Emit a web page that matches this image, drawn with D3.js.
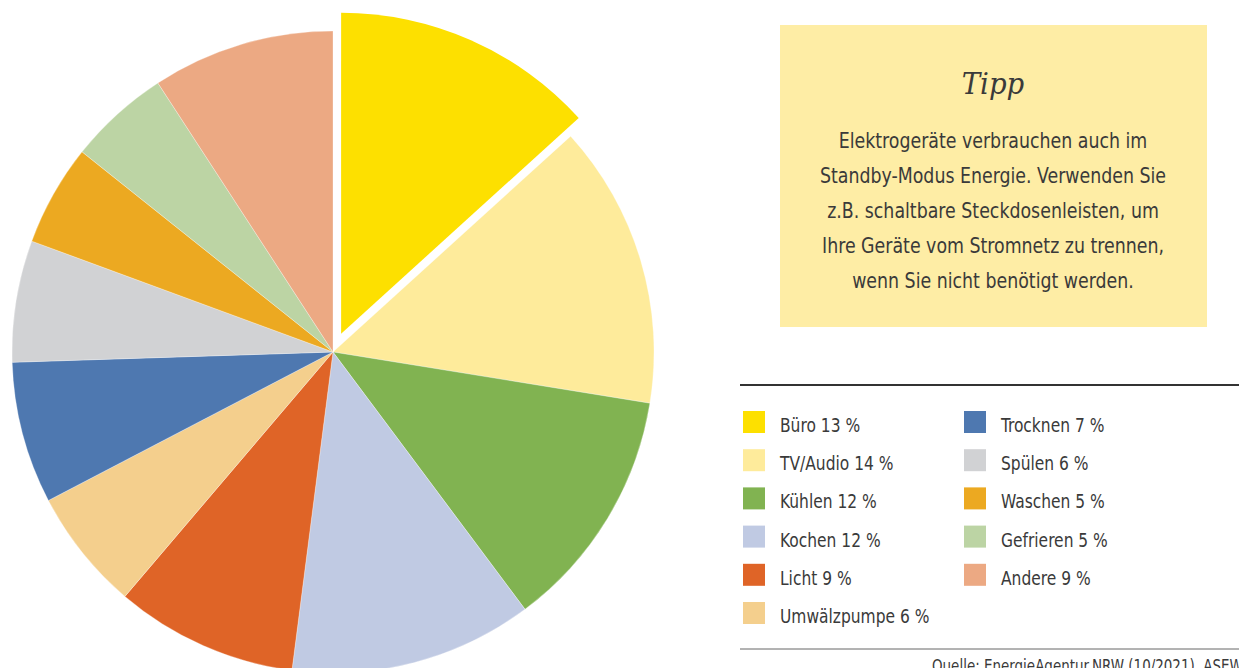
<!DOCTYPE html>
<html>
<head>
<meta charset="utf-8">
<script src="https://cdn.jsdelivr.net/npm/d3@7"></script>
<style>
  body { margin: 0; background: #fff; }
  svg { display: block; }
  .cond { font-family: "Liberation Sans Narrow", "DejaVu Sans Condensed", "Roboto", sans-serif; font-stretch: condensed; fill: #3a3a3a; }
  .tipp-title { font-family: "DejaVu Serif", "Liberation Serif", serif; font-style: italic; fill: #3a3a3a; }
</style>
</head>
<body>
<div id="chart"></div>
<script>
const categories = ["Büro", "TV/Audio", "Kühlen", "Kochen", "Licht", "Umwälzpumpe",
                    "Trocknen", "Spülen", "Waschen", "Gefrieren", "Andere"];
const shares = [13, 14, 12, 12, 9, 6, 7, 6, 5, 5, 9];
const colors = ["#fde000", "#feeb9b", "#81b351", "#c0cae3", "#df6427", "#f4cf8d",
                "#4e78b0", "#d1d2d4", "#eca921", "#bcd4a4", "#eca983"];
const tippLines = [
  "Elektrogeräte verbrauchen auch im",
  "Standby-Modus Energie. Verwenden Sie",
  "z.B. schaltbare Steckdosenleisten, um",
  "Ihre Geräte vom Stromnetz zu trennen,",
  "wenn Sie nicht benötigt werden."
];
const sourceText = "Quelle: EnergieAgentur.NRW (10/2021), ASEW";

const width = 1239;
const height = 668;

const svg = d3.select("#chart")
  .append("svg")
  .attr("width", width)
  .attr("height", height);

// squeeze the fallback font to look like a condensed face
function squeeze(sel, k) {
  sel.each(function() {
    const w = this.getComputedTextLength();
    d3.select(this)
      .attr("textLength", w * k)
      .attr("lengthAdjust", "spacingAndGlyphs");
  });
}

// pie
const cx = 333, cy = 352, radius = 321;
const pie = d3.pie().sort(null).value(d => d.value);
const arc = d3.arc().innerRadius(0).outerRadius(radius);
const data = categories.map((c, i) => ({ name: c, value: shares[i], color: colors[i] }));

const pieGroup = svg.append("g")
  .attr("transform", `translate(${cx},${cy})`);

pieGroup.selectAll("path")
  .data(pie(data))
  .join("path")
  .attr("d", arc)
  .attr("fill", d => d.data.color)
  .attr("stroke", "rgba(255,255,255,0.5)")
  .attr("stroke-width", d => d.index === 0 ? 0 : 0.6)
  .attr("transform", d => {
    if (d.index !== 0) return null;
    const mid = (d.startAngle + d.endAngle) / 2;
    const off = 20;
    return `translate(${off * Math.sin(mid)},${-off * Math.cos(mid)})`;
  });

// tip box
svg.append("rect")
  .attr("x", 780)
  .attr("y", 25)
  .attr("width", 427)
  .attr("height", 302)
  .attr("fill", "#feeda5");

svg.append("text")
  .attr("class", "tipp-title")
  .attr("x", 993)
  .attr("y", 94)
  .attr("text-anchor", "middle")
  .attr("font-size", 30)
  .text("Tipp")
  .call(squeeze, 0.92);

svg.selectAll(".tipp-line")
  .data(tippLines)
  .join("text")
  .attr("class", "cond tipp-line")
  .attr("x", 993)
  .attr("y", (d, i) => 148 + i * 35)
  .attr("text-anchor", "middle")
  .attr("font-size", 21)
  .text(d => d)
  .call(squeeze, 0.92);

// legend
svg.append("line")
  .attr("x1", 740).attr("x2", width)
  .attr("y1", 385).attr("y2", 385)
  .attr("stroke", "#333")
  .attr("stroke-width", 2);

const legend = svg.append("g");
const rows = 6;
const legendItems = legend.selectAll("g")
  .data(data)
  .join("g")
  .attr("transform", (d, i) => {
    const col = Math.floor(i / rows);
    const row = i % rows;
    return `translate(${743 + col * 221},${411 + row * 38.2})`;
  });

legendItems.append("rect")
  .attr("width", 22)
  .attr("height", 22)
  .attr("fill", d => d.color);

legendItems.append("text")
  .attr("class", "cond")
  .attr("x", 37)
  .attr("y", 21)
  .attr("font-size", 20)
  .text(d => `${d.name} ${d.value} %`)
  .call(squeeze, 0.86);

svg.append("line")
  .attr("x1", 740).attr("x2", width)
  .attr("y1", 649).attr("y2", 649)
  .attr("stroke", "#666")
  .attr("stroke-width", 1);

svg.append("text")
  .attr("class", "cond")
  .attr("x", 932)
  .attr("y", 672)
  .attr("font-size", 17)
  .text(sourceText)
  .call(squeeze, 0.88);
</script>
</body>
</html>
